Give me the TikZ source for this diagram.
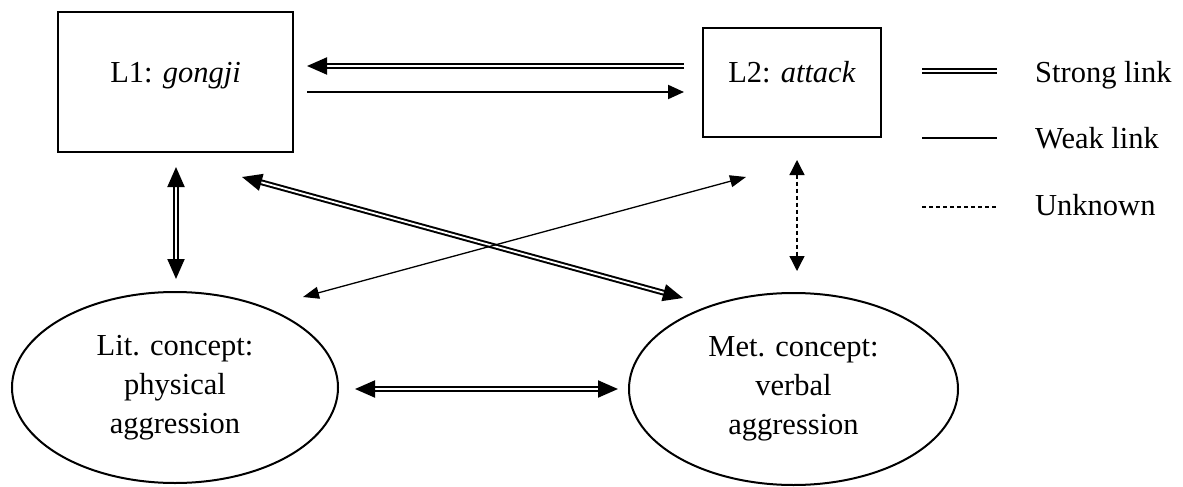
\documentclass[tikz,border=0pt]{standalone}
\usepackage{fontspec}
\setmainfont{Liberation Serif}
\usetikzlibrary{arrows.meta,shapes.geometric}
\begin{document}
\begin{tikzpicture}[x=1pt,y=-1pt,
  txt/.style={font=\fontsize{30.5}{39}\selectfont},
  wordbox/.style={draw, line width=2pt, inner sep=0pt, txt,
    text height=21pt, text depth=21pt},
  concept/.style={ellipse, draw, line width=2pt, inner sep=0pt, txt, align=center},
  strong/.style={draw, line width=2pt, double, double distance=1.8pt},
  strongtip/.style={-{Triangle[length=20pt,width=17pt]}},
  strongboth/.style={{Triangle[length=20pt,width=17pt]}-{Triangle[length=20pt,width=17pt]}},
  weak/.style={draw, line width=2pt},
  thin/.style={draw, line width=1.3pt,
    {Triangle[length=16pt,width=12pt]}-{Triangle[length=16pt,width=12pt]}},
  unknown/.style={draw, line width=1.3pt, dash pattern=on 4pt off 3pt},
  legendtxt/.style={txt, anchor=base west, inner sep=0pt}
]
\useasboundingbox (0,0) rectangle (1183,487);

% word forms
\node[wordbox, minimum width=235pt, minimum height=140pt] (L1) at (175.5,82) {L1: \textit{gongji}};
\node[wordbox, minimum width=178pt, minimum height=109pt] (L2) at (792,82.5) {L2: \textit{attack}};

% concepts
\node[concept, minimum width=326pt, minimum height=191pt] (lit) at (175,387.5)
  {Lit. concept:\\physical\\aggression};
\node[concept, minimum width=329pt, minimum height=192pt] (met) at (793.5,389)
  {Met. concept:\\verbal\\aggression};

% connector end points
\coordinate (l2s) at (684,66);   \coordinate (l1s) at (307,66);
\coordinate (l1w) at (307,92);   \coordinate (l2w) at (684,92);
\coordinate (l1d) at (176,167);  \coordinate (litu) at (176,279);
\coordinate (l1x) at (242,177);  \coordinate (metx) at (683,298);
\coordinate (litx) at (303,297); \coordinate (l2x) at (746,177);
\coordinate (l2d) at (797,160);  \coordinate (metu) at (797,271);
\coordinate (litr) at (355,389); \coordinate (metl) at (618,389);

% links
\draw[strong, strongtip] (l2s) -- (l1s);
\draw[weak, -{Triangle[length=16pt,width=14pt]}] (l1w) -- (l2w);
\draw[strong, strongboth] (l1d) -- (litu);
\draw[strong, strongboth] (l1x) -- (metx);
\draw[thin] (litx) -- (l2x);
\draw[unknown, {Triangle[length=15pt,width=15pt]}-{Triangle[length=15pt,width=15pt]}] (l2d) -- (metu);
\draw[strong, strongboth] (litr) -- (metl);

% legend
\coordinate (ks1) at (922,71);  \coordinate (ke1) at (997,71);
\coordinate (ks2) at (922,138); \coordinate (ke2) at (997,138);
\coordinate (ks3) at (922,207); \coordinate (ke3) at (997,207);
\draw[strong] (ks1) -- (ke1);
\draw[weak] (ks2) -- (ke2);
\draw[unknown] (ks3) -- (ke3);
\node[legendtxt] (k1) at (1035,82) {Strong link};
\node[legendtxt] (k2) at (1035,148) {Weak link};
\node[legendtxt] (k3) at (1035,215) {Unknown};
\end{tikzpicture}
\end{document}
